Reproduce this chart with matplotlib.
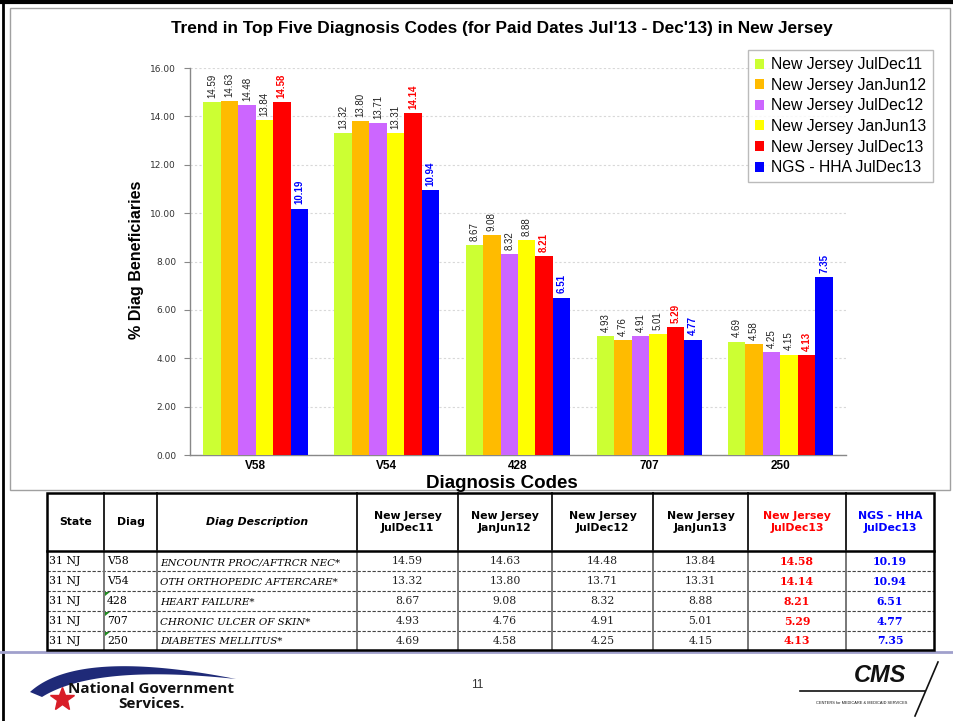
import matplotlib
matplotlib.use("Agg")
import matplotlib.pyplot as plt
import numpy as np
from matplotlib import font_manager
from matplotlib.patches import Patch, Polygon, Rectangle

# ---------------- data ----------------
codes = ['V58', 'V54', '428', '707', '250']
descriptions = ['ENCOUNTR PROC/AFTRCR NEC*', 'OTH ORTHOPEDIC AFTERCARE*',
                'HEART FAILURE*', 'CHRONIC ULCER OF SKIN*', 'DIABETES MELLITUS*']
state = '31 NJ'
series_names = ['New Jersey JulDec11', 'New Jersey JanJun12', 'New Jersey JulDec12',
                'New Jersey JanJun13', 'New Jersey JulDec13', 'NGS - HHA JulDec13']
jd11 = [14.59, 13.32, 8.67, 4.93, 4.69]
jj12 = [14.63, 13.80, 9.08, 4.76, 4.58]
jd12 = [14.48, 13.71, 8.32, 4.91, 4.25]
jj13 = [13.84, 13.31, 8.88, 5.01, 4.15]
jd13 = [14.58, 14.14, 8.21, 5.29, 4.13]
ngs13 = [10.19, 10.94, 6.51, 4.77, 7.35]
series_values = [jd11, jj12, jd12, jj13, jd13, ngs13]
yticks = [0, 2, 4, 6, 8, 10, 12, 14, 16]

colors = ['#CCFF33', '#FFBB00', '#CC66FF', '#FFFF00', '#FF0000', '#0000FF']
label_colors = ['#222222'] * 4 + ['#FF0000', '#0000FF']
label_weights = ['normal'] * 4 + ['bold', 'bold']

# ---------------- fonts ----------------
avail = {f.name for f in font_manager.fontManager.ttflist}
SANS = 'Liberation Sans' if 'Liberation Sans' in avail else 'DejaVu Sans'
NARROW = 'Liberation Sans Narrow' if 'Liberation Sans Narrow' in avail else SANS
SERIF = 'DejaVu Serif'
LOGO = 'Open Sans' if 'Open Sans' in avail else SANS
plt.rcParams['font.family'] = [SANS, 'DejaVu Sans']

W, H = 954, 721
fig = plt.figure(figsize=(W / 100, H / 100), dpi=100)

def fx(x):
    return x / W

def fy(y):
    return 1 - y / H

# overlay axes in pixel coordinates (for frame, table, footer)
ov = fig.add_axes([0, 0, 1, 1], zorder=0)
ov.set_xlim(0, W)
ov.set_ylim(H, 0)
ov.axis('off')

ov.plot([0, W], [1.5, 1.5], color='black', lw=3, solid_capstyle='butt')
ov.plot([3, 3], [0, H], color='black', lw=2, solid_capstyle='butt')
ov.add_patch(Rectangle((10, 8), 940, 482, fill=False, edgecolor='#A0A0A0', lw=1))

# ---------------- chart ----------------
ax_l, ax_r, ax_t, ax_b = 190, 846, 68, 455
ax = fig.add_axes([fx(ax_l), fy(ax_b), (ax_r - ax_l) / W, (ax_b - ax_t) / H], zorder=2)
ax.patch.set_alpha(0)
n = len(codes)
x = np.arange(n)
bw = 0.8 / 6
for i, (vals, c) in enumerate(zip(series_values, colors)):
    pos = x - 0.4 + bw * (i + 0.5)
    ax.bar(pos, vals, width=bw, color=c, edgecolor='none', zorder=3, label=series_names[i])
    for xp, v in zip(pos, vals):
        ax.annotate(f'{v:.2f}', (xp, v), xytext=(0, 3), textcoords='offset points',
                    rotation=90, ha='center', va='bottom', fontsize=7,
                    family=NARROW, color=label_colors[i], fontweight=label_weights[i])

ax.set_xlim(-0.5, n - 0.5)
ax.set_ylim(0, 16)
ax.set_yticks(yticks)
ax.set_yticklabels([f'{t:.2f}' for t in yticks], fontsize=6.5, family='DejaVu Sans',
                   color='#333333')
ax.set_xticks(x)
ax.set_xticklabels(codes, fontsize=8.5, fontweight='bold')
ax.tick_params(axis='x', length=0, pad=3.5)
ax.tick_params(axis='y', length=4, color='#888888', pad=6)
ax.yaxis.grid(True, color='#D8D8D8', linestyle=(0, (2, 2)), lw=0.8, zorder=0)
ax.set_axisbelow(True)
for s in ['top', 'right']:
    ax.spines[s].set_visible(False)
for s in ['left', 'bottom']:
    ax.spines[s].set_color('#888888')
    ax.spines[s].set_linewidth(1)

fig.text(fx(137), fy(260), '% Diag Beneficiaries', rotation=90, ha='center', va='center',
         fontsize=11.6, fontweight='bold', family=NARROW)
fig.text(fx(502), fy(484), 'Diagnosis Codes', ha='center', va='center',
         fontsize=13.5, fontweight='bold')
fig.text(fx(502), fy(28), "Trend in Top Five Diagnosis Codes (for Paid Dates Jul'13 - Dec'13) in New Jersey",
         ha='center', va='center', fontsize=12.4, fontweight='bold')

handles = [Patch(facecolor=c, edgecolor='none') for c in colors]
leg = ax.legend(handles, series_names, loc='upper left',
                bbox_to_anchor=(fx(748), fy(50)), bbox_transform=fig.transFigure,
                fontsize=11.3, frameon=True, fancybox=False, edgecolor='#AAAAAA',
                handlelength=0.6, handleheight=0.6, handletextpad=0.4,
                labelspacing=0.36, borderpad=0.45, borderaxespad=0)
leg.get_frame().set_linewidth(1)
leg.set_zorder(5)

# ---------------- table ----------------
col_edges = [47, 104, 157, 357, 458, 552, 653, 748, 846, 934]
row_edges = [493, 551, 571, 591, 611, 631, 650]
ov.add_patch(Rectangle((col_edges[0], row_edges[0]), col_edges[-1] - col_edges[0],
                       row_edges[-1] - row_edges[0], facecolor='white', edgecolor='none', zorder=1))
for y in row_edges[2:-1]:
    ov.plot([col_edges[0], col_edges[-1]], [y, y], color='#444444', lw=0.8,
            linestyle=(0, (3, 1.5)), zorder=2)
for xx in col_edges[1:-1]:
    ov.plot([xx, xx], [row_edges[0], row_edges[1]], color='#222222', lw=1.4, zorder=2)
    ov.plot([xx, xx], [row_edges[1], row_edges[-1]], color='#777777', lw=1.4, zorder=2)
ov.plot([col_edges[0], col_edges[-1]], [row_edges[1], row_edges[1]], color='black', lw=1.8, zorder=3)
ov.add_patch(Rectangle((col_edges[0], row_edges[0]), col_edges[-1] - col_edges[0],
                       row_edges[-1] - row_edges[0], fill=False, edgecolor='black', lw=1.8, zorder=3))

HF = 'DejaVu Sans'
hy = (row_edges[0] + row_edges[1]) / 2
ov.text((col_edges[0] + col_edges[1]) / 2, hy, 'State', ha='center', va='center',
        fontsize=7.8, fontweight='bold', family=HF, zorder=4)
ov.text((col_edges[1] + col_edges[2]) / 2, hy, 'Diag', ha='center', va='center',
        fontsize=7.8, fontweight='bold', family=HF, zorder=4)
ov.text((col_edges[2] + col_edges[3]) / 2, hy, 'Diag Description', ha='center', va='center',
        fontsize=7.8, fontweight='bold', style='italic', family=HF, zorder=4)
head_colors = ['black'] * 4 + ['#FF0000', '#0000FF']
for j, name in enumerate(series_names):
    cx = (col_edges[3 + j] + col_edges[4 + j]) / 2
    parts = name.rsplit(' ', 1)
    ov.text(cx, hy, parts[0] + '\n' + parts[1], ha='center', va='center', fontsize=7.8,
            fontweight='bold', family=HF, color=head_colors[j], linespacing=1.3, zorder=4)

val_colors = ['#222222'] * 4 + ['#FF0000', '#0000FF']
val_weights = ['normal'] * 4 + ['bold', 'bold']
for r in range(n):
    cy = (row_edges[r + 1] + row_edges[r + 2]) / 2 + 0.5
    ov.text(col_edges[0] + 2, cy, state, ha='left', va='center', fontsize=7.8,
            family=SERIF, zorder=4)
    ov.text(col_edges[1] + 3, cy, codes[r], ha='left', va='center', fontsize=7.8,
            family=SERIF, zorder=4)
    ov.text(col_edges[2] + 3, cy + 1, descriptions[r], ha='left', va='center', fontsize=7.4,
            family=SERIF, style='italic', zorder=4)
    if r >= 2:
        y0 = row_edges[r + 1] + 1
        ov.add_patch(Polygon([[col_edges[1] + 1, y0], [col_edges[1] + 6, y0],
                              [col_edges[1] + 1, y0 + 4]], closed=True,
                             facecolor='#228B22', edgecolor='none', zorder=4))
    for j, vals in enumerate(series_values):
        cx = (col_edges[3 + j] + col_edges[4 + j]) / 2
        ov.text(cx, cy, f'{vals[r]:.2f}', ha='center', va='center', fontsize=7.8,
                family=SERIF, color=val_colors[j], fontweight=val_weights[j], zorder=4)

# ---------------- footer ----------------
ov.plot([0, W], [652, 652], color='#A0A0CC', lw=2, zorder=2)
ov.text(477, 685, '11', ha='center', va='center', fontsize=8.5, color='#333333')

def qbez(p0, p1, p2, t):
    t = t[:, None]
    return (1 - t) ** 2 * np.array(p0) + 2 * (1 - t) * t * np.array(p1) + t ** 2 * np.array(p2)

t = np.linspace(0, 1, 80)
outer = qbez((30, 692), (78, 648), (236, 679), t)
inner = qbez((42, 697), (95, 664), (236, 679), t)[::-1]
ov.add_patch(Polygon(np.vstack([outer, inner]), closed=True,
                     facecolor='#1F2A78', edgecolor='none', zorder=3))
ov.plot([62], [699], marker='*', markersize=18, color='#D81E28', zorder=4)
ov.text(151, 689, 'National Government', ha='center', va='center', fontsize=11,
        fontweight='bold', family=LOGO, color='#111111', zorder=5)
ov.text(151, 704, 'Services.', ha='center', va='center', fontsize=11,
        fontweight='bold', family=LOGO, color='#111111', zorder=5)

ov.text(880, 676, 'CMS', ha='center', va='center', fontsize=17, fontweight='bold',
        style='italic', color='#111111', zorder=4)
ov.plot([800, 925], [691, 691], color='#111111', lw=1.2, zorder=4)
ov.plot([938, 915], [662, 716], color='#111111', lw=1.2, zorder=4)
ov.text(862, 703, 'CENTERS for MEDICARE & MEDICAID SERVICES', ha='center', va='center',
        fontsize=2.8, color='#111111', zorder=4)

fig.savefig('out.png', dpi=100)
